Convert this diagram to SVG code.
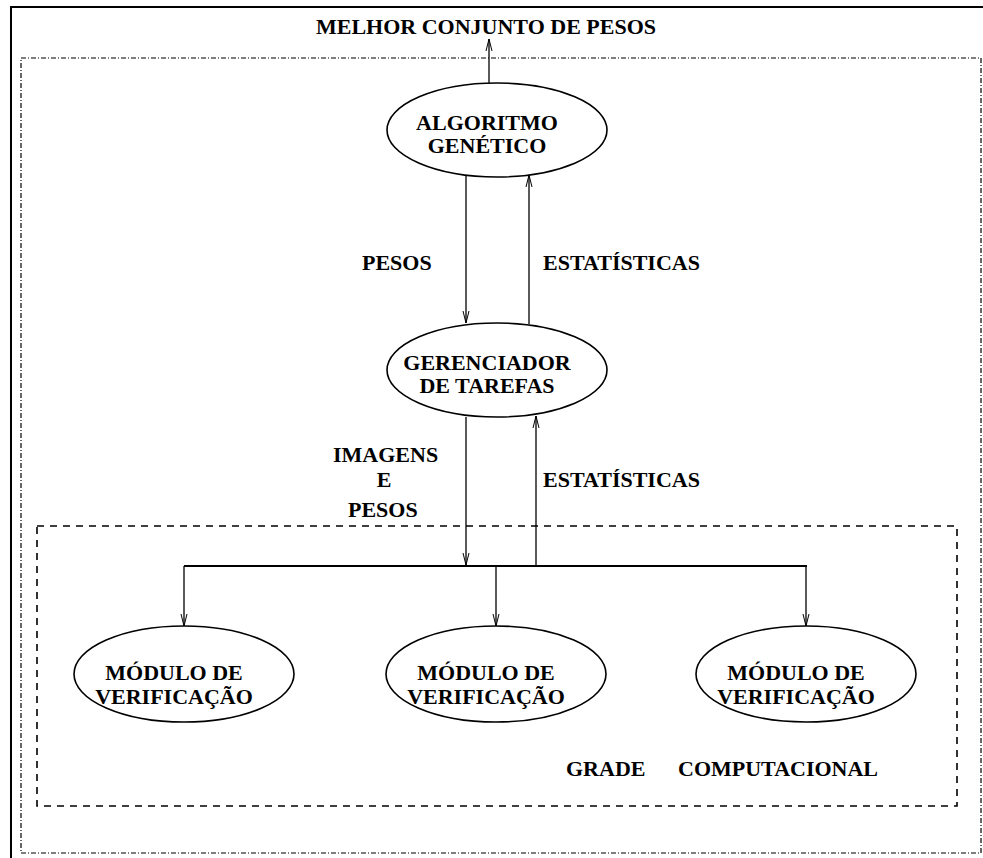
<svg xmlns="http://www.w3.org/2000/svg" width="983" height="858" viewBox="0 0 983 858">
<defs>
<marker id="arr" markerWidth="12" markerHeight="8" refX="12" refY="4" orient="auto" markerUnits="userSpaceOnUse" viewBox="0 0 12 8">
<path d="M0,1 L12,4 L0,7" fill="none" stroke="#000" stroke-width="1"/>
</marker>
<style>
text{font-family:"Liberation Serif","Times New Roman",serif;font-weight:bold;font-size:22px;fill:#000}
.c{text-anchor:middle}
.node ellipse{fill:none;stroke:#000;stroke-width:1.6}
.con line{fill:none;stroke:#000;stroke-width:1.3}
</style>
</defs>
<rect width="983" height="858" fill="#fff"/>
<rect x="11" y="7" width="990" height="870" fill="none" stroke="#000" stroke-width="2"/>
<rect x="21" y="58" width="960" height="795" fill="none" stroke="#000" stroke-width="1.2" stroke-dasharray="5 2 1 2"/>
<rect x="37" y="526" width="920" height="280" fill="none" stroke="#000" stroke-width="1.6" stroke-dasharray="7 6"/>
<text class="c" x="486" y="34">MELHOR CONJUNTO DE PESOS</text>
<g id="labels">
<text x="362" y="270">PESOS</text>
<text x="543" y="270">ESTATÍSTICAS</text>
<text x="333" y="462">IMAGENS</text>
<text class="c" x="384" y="487">E</text>
<text x="348" y="517">PESOS</text>
<text x="543" y="487">ESTATÍSTICAS</text>
<text x="566" y="776">GRADE</text>
<text x="678" y="776">COMPUTACIONAL</text>
</g>
<g id="n-ag" class="node">
<ellipse cx="497" cy="130" rx="110" ry="47"/>
<text class="c" x="487" y="130">ALGORITMO</text>
<text class="c" x="487" y="153">GENÉTICO</text>
</g>
<g id="n-gt" class="node">
<ellipse cx="497" cy="370" rx="110" ry="47"/>
<text class="c" x="487" y="370">GERENCIADOR</text>
<text class="c" x="487" y="393">DE TAREFAS</text>
</g>
<g id="n-m1" class="node">
<ellipse cx="184" cy="674" rx="110" ry="48"/>
<text class="c" x="174" y="680">MÓDULO DE</text>
<text class="c" x="174" y="704">VERIFICAÇÃO</text>
</g>
<g id="n-m2" class="node">
<ellipse cx="496" cy="674" rx="110" ry="48"/>
<text class="c" x="486" y="680">MÓDULO DE</text>
<text class="c" x="486" y="704">VERIFICAÇÃO</text>
</g>
<g id="n-m3" class="node">
<ellipse cx="806" cy="674" rx="110" ry="48"/>
<text class="c" x="796" y="680">MÓDULO DE</text>
<text class="c" x="796" y="704">VERIFICAÇÃO</text>
</g>
<g id="connectors" class="con">
<line x1="489" y1="83" x2="489" y2="39" marker-end="url(#arr)"/>
<line x1="466" y1="176" x2="466" y2="323" marker-end="url(#arr)"/>
<line x1="529" y1="324" x2="529" y2="175" marker-end="url(#arr)"/>
<line x1="466" y1="417" x2="466" y2="565" marker-end="url(#arr)"/>
<line x1="536" y1="565" x2="536" y2="416" marker-end="url(#arr)"/>
<line x1="184" y1="566" x2="807" y2="566" style="stroke-width:2"/>
<line x1="184" y1="566" x2="184" y2="626" marker-end="url(#arr)"/>
<line x1="496" y1="566" x2="496" y2="626" marker-end="url(#arr)"/>
<line x1="806" y1="566" x2="806" y2="626" marker-end="url(#arr)"/>
</g>
</svg>
